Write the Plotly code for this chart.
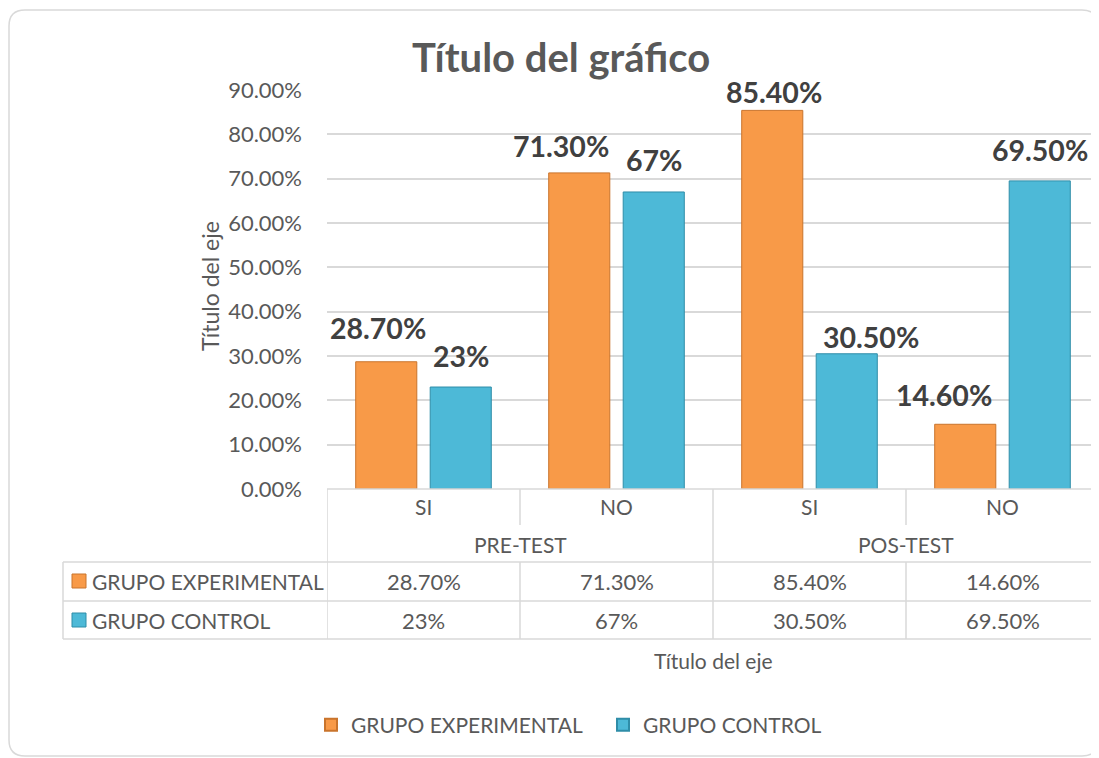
import plotly.graph_objects as go

# ---------------- data ----------------
categories = ["SI", "NO", "SI", "NO"]
groups = ["PRE-TEST", "POS-TEST"]
series_names = ["GRUPO EXPERIMENTAL", "GRUPO CONTROL"]
exp_values = [0.287, 0.713, 0.854, 0.146]
ctrl_values = [0.23, 0.67, 0.305, 0.695]
exp_labels = ["28.70%", "71.30%", "85.40%", "14.60%"]
ctrl_labels = ["23%", "67%", "30.50%", "69.50%"]

# ---------------- style ----------------
OFF = 8                      # page body margin of the html page
VW, VH = 1099, 758           # viewport
W, H = VW - OFF, VH - OFF
PL, PR, PT, PB = 327, 1099, 90, 489   # plot area in viewport pixels
YMAX = 0.9
FONT = "Lato, Calibri, 'Open Sans', sans-serif"
TXT = "#595959"
GRID = "#D9D9D9"
ORANGE, ORANGE_LINE = "#F89A48", "#C9742C"
BLUE, BLUE_LINE = "#4DB9D7", "#2F8DA8"

# manual label nudges (px) as in the original chart (dx, dy up)
exp_nudge = [(-8, 33), (-18, 26), (2, 17), (-21, 28)]
ctrl_nudge = [(0, 30), (0, 31), (24, 16), (0, 30)]
HALF = 37.25  # half of one bar slot in px


def px(X):
    return (X - PL) / (PR - PL)


def py(Y):
    return (PB - Y) / (PB - PT)


x_idx = list(range(len(categories)))

fig = go.Figure()
fig.add_trace(go.Bar(x=x_idx, y=exp_values, name=series_names[0],
                     marker=dict(color=ORANGE, line=dict(color=ORANGE_LINE, width=1))))
fig.add_trace(go.Bar(x=x_idx, y=ctrl_values, name=series_names[1],
                     marker=dict(color=BLUE, line=dict(color=BLUE_LINE, width=1))))

shapes = []
annotations = []

# rounded chart frame
x0, y0, x1, y1, r = 9, 10, 1098, 756, 16
path = (f"M {px(x0 + r)} {py(y0)} L {px(x1 - r)} {py(y0)} Q {px(x1)} {py(y0)} {px(x1)} {py(y0 + r)} "
        f"L {px(x1)} {py(y1 - r)} Q {px(x1)} {py(y1)} {px(x1 - r)} {py(y1)} "
        f"L {px(x0 + r)} {py(y1)} Q {px(x0)} {py(y1)} {px(x0)} {py(y1 - r)} "
        f"L {px(x0)} {py(y0 + r)} Q {px(x0)} {py(y0)} {px(x0 + r)} {py(y0)} Z")
shapes.append(dict(type="path", path=path, xref="paper", yref="paper",
                   line=dict(color=GRID, width=1.5), layer="below"))

# data labels
lab_font = dict(family=FONT, size=28.5, color="#404040", weight="bold")
for i in x_idx:
    dx, dy = exp_nudge[i]
    annotations.append(dict(x=i, y=exp_values[i], xref="x", yref="y", text=exp_labels[i],
                            showarrow=False, xshift=-HALF + dx, yshift=dy + 1,
                            xanchor="center", yanchor="middle", font=lab_font))
    dx, dy = ctrl_nudge[i]
    annotations.append(dict(x=i, y=ctrl_values[i], xref="x", yref="y", text=ctrl_labels[i],
                            showarrow=False, xshift=HALF + dx, yshift=dy + 1,
                            xanchor="center", yanchor="middle", font=lab_font))

# ---------- data table ----------
LW = 1.5
ROW = [489, 525, 562, 601, 639]


def hline(xa, xb, Y):
    shapes.append(dict(type="line", xref="paper", yref="paper", x0=px(xa), x1=px(xb),
                       y0=py(Y), y1=py(Y), line=dict(color=GRID, width=LW)))


def vline_x(xv, ya, yb):
    shapes.append(dict(type="line", xref="x", yref="paper", x0=xv, x1=xv,
                       y0=py(ya), y1=py(yb), line=dict(color=GRID, width=LW)))


hline(PL, PR, ROW[0])
for Y in ROW[2:]:
    hline(63, PR, Y)
shapes.append(dict(type="line", xref="paper", yref="paper", x0=px(63), x1=px(63),
                   y0=py(ROW[2]), y1=py(ROW[4]), line=dict(color=GRID, width=LW)))
vline_x(-0.5, ROW[0], ROW[4])
vline_x(1.5, ROW[0], ROW[4])
for xv in (0.5, 2.5):
    vline_x(xv, ROW[0], ROW[1])
    vline_x(xv, ROW[2], ROW[4])

wfont = dict(family=FONT, size=21, color=TXT)
nfont = dict(family=FONT, size=22, color=TXT)


def note(xv, yv, text, font, xref="paper", xanchor="center", **kw):
    annotations.append(dict(x=xv, y=yv, xref=xref, yref="paper", text=text, showarrow=False,
                            xanchor=xanchor, yanchor="middle", font=font, **kw))


for i, c in enumerate(categories):
    note(i, py(507), c, wfont, xref="x")
    note(i, py(581), exp_labels[i], nfont, xref="x")
    note(i, py(620), ctrl_labels[i], nfont, xref="x")
for j, g in enumerate(groups):
    note(2 * j + 0.5, py(544), g, wfont, xref="x")

for nm, col, lc, Y in [(series_names[0], ORANGE, ORANGE_LINE, 581),
                       (series_names[1], BLUE, BLUE_LINE, 620)]:
    shapes.append(dict(type="rect", xref="paper", yref="paper",
                       x0=px(72), x1=px(86), y0=py(Y - 7), y1=py(Y + 7),
                       fillcolor=col, line=dict(color=lc, width=1)))
    note(px(90), py(Y), nm, wfont, xanchor="left")

# titles
note(px(561), py(57), "Título del gráfico",
     dict(family=FONT, size=40, color=TXT, weight="bold"))
note(px(713), py(660), "Título del eje", wfont)
note(px(210), py(286), "Título del eje", dict(family=FONT, size=23, color=TXT), textangle=-90)

fig.update_layout(
    width=W, height=H,
    margin=dict(l=PL - OFF, r=VW - PR, t=PT - OFF, b=VH - PB),
    paper_bgcolor="white", plot_bgcolor="white",
    barmode="group", bargap=0.228, bargroupgap=0.18,
    font=dict(family=FONT, size=21, color=TXT),
    shapes=shapes, annotations=annotations,
    showlegend=True,
    legend=dict(orientation="h", x=px(311), xanchor="left", y=py(725), yanchor="middle",
                font=dict(family=FONT, size=21, color=TXT), bgcolor="rgba(0,0,0,0)",
                entrywidth=247, entrywidthmode="pixels",
                itemsizing="constant", traceorder="normal"),
    xaxis=dict(range=[-0.5, 3.5], showticklabels=False, showgrid=False, zeroline=False,
               showline=False, ticks="", fixedrange=True),
    yaxis=dict(range=[0, YMAX], dtick=0.1, tickformat=".2%", showgrid=True, gridcolor=GRID,
               gridwidth=1.5, zeroline=False, showline=False, ticks="",
               ticklabelstandoff=24, tickfont=dict(family=FONT, size=22, color=TXT)),
)

fig.write_html("out.html")
